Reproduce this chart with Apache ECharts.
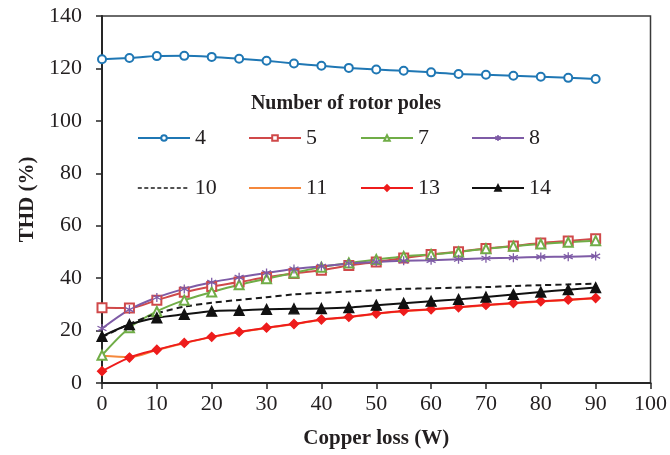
<!DOCTYPE html>
<html>
<head>
<meta charset="utf-8">
<script src="https://cdn.jsdelivr.net/npm/echarts@6/dist/echarts.min.js"></script>
<style>
  html, body { margin: 0; padding: 0; background: #fff; }
  #chart { width: 670px; height: 455px; }
</style>
</head>
<body>
<div id="chart"></div>
<script>
// Copper loss (W), sampled every 5 W
const copperLoss = [0, 5, 10, 15, 20, 25, 30, 35, 40, 45, 50, 55, 60, 65, 70, 75, 80, 85, 90];

// THD (%) for each number of rotor poles
const poles4  = [123.5, 124.0, 124.7, 124.8, 124.4, 123.7, 122.9, 121.9, 121.0, 120.2, 119.6, 119.1, 118.5, 117.9, 117.6, 117.2, 116.8, 116.4, 116.0];
const poles5  = [28.7, 28.6, 31.6, 34.6, 36.8, 38.5, 40.3, 41.8, 43.0, 44.8, 46.2, 47.7, 49.0, 50.1, 51.3, 52.3, 53.4, 54.2, 55.0];
const poles7  = [10.6, 21.1, 27.3, 31.6, 34.7, 37.5, 39.8, 42.0, 44.2, 45.8, 47.1, 48.3, 49.0, 50.0, 51.2, 52.2, 53.0, 53.7, 54.3];
const poles8  = [20.8, 28.0, 32.6, 35.9, 38.4, 40.3, 42.0, 43.5, 44.5, 45.6, 46.2, 46.6, 46.8, 47.2, 47.6, 47.8, 48.1, 48.2, 48.4];
const poles10 = [17.5, 22.5, 26.5, 29.1, 30.6, 31.7, 32.7, 33.8, 34.4, 34.9, 35.4, 35.9, 36.1, 36.4, 36.6, 37.0, 37.3, 37.6, 37.9];
const poles11 = [10.4, 9.9, 12.6, 15.2, 17.5, 19.4, 21.0, 22.4, 24.1, 25.1, 26.4, 27.4, 28.0, 28.8, 29.7, 30.3, 31.1, 31.7, 32.3];
const poles13 = [4.5, 9.7, 12.7, 15.3, 17.6, 19.5, 21.1, 22.5, 24.2, 25.2, 26.5, 27.5, 28.1, 28.9, 29.8, 30.5, 31.2, 31.8, 32.4];
const poles14 = [17.8, 22.3, 24.9, 26.2, 27.4, 27.7, 28.1, 28.3, 28.4, 28.8, 29.7, 30.4, 31.2, 31.9, 32.8, 33.8, 34.7, 35.6, 36.4];

const xTicks = [0, 10, 20, 30, 40, 50, 60, 70, 80, 90, 100];
const yTicks = [0, 20, 40, 60, 80, 100, 120, 140];

const serif = '"Liberation Serif", "Times New Roman", serif';
const ink = '#231f20';

// asterisk marker used for the 8-pole curve
const asterisk = 'path://M0,-10L0,10M-8.66,-5L8.66,5M-8.66,5L8.66,-5';

function pairs(ys) {
  return copperLoss.map((x, i) => [x, ys[i]]);
}

const seriesDefs = [
  { name: '4',  data: poles4,  color: '#1f77b4', symbol: 'emptyCircle', size: 8 },
  { name: '5',  data: poles5,  color: '#d0494a', symbol: 'emptyRect', size: 9 },
  { name: '7',  data: poles7,  color: '#70ad47', symbol: 'emptyTriangle', size: 9 },
  { name: '8',  data: poles8,  color: '#7e5ba6', symbol: asterisk, size: 9, stroke: true },
  { name: '10', data: poles10, color: '#1a1a1a', symbol: 'none', size: 0, dashed: true },
  { name: '11', data: poles11, color: '#f5883c', symbol: 'none', size: 0 },
  { name: '13', data: poles13, color: '#ee1c1c', symbol: 'diamond', size: 9 },
  { name: '14', data: poles14, color: '#111111', symbol: 'triangle', size: 10 }
];

const series = seriesDefs.map(d => {
  const s = {
    name: d.name,
    type: 'line',
    data: pairs(d.data),
    smooth: 0.3,
    symbol: d.symbol,
    symbolSize: d.size,
    showSymbol: d.symbol !== 'none',
    color: d.color,
    lineStyle: { color: d.color, width: 2, type: d.dashed ? [6, 4] : 'solid' },
    itemStyle: { color: d.color, borderColor: d.color, borderWidth: 1.3 },
    emphasis: { disabled: true },
    animation: false
  };
  if (d.stroke) {
    s.itemStyle = { color: 'none', borderColor: d.color, borderWidth: 1.3 };
  }
  return s;
});

// legend laid out as a 4 x 2 table
const colX = [137, 248, 360, 471];
const rowY = [127, 177];
const legends = seriesDefs.map((d, i) => {
  const item = { name: d.name };
  if (d.symbol === 'none') {
    item.itemStyle = { opacity: 0 };
  }
  if (d.dashed) {
    item.lineStyle = { type: [4, 2.5], width: 1.6 };
  }
  return {
    data: [item],
    left: colX[i % 4],
    top: rowY[Math.floor(i / 4)],
    padding: 0,
    itemWidth: 52,
    itemHeight: 7,
    itemGap: 0,
    selectedMode: false,
    textStyle: { fontFamily: serif, fontSize: 22, color: ink }
  };
});

const chart = echarts.init(document.getElementById('chart'), null, { renderer: 'canvas' });
chart.setOption({
  animation: false,
  backgroundColor: '#fff',
  title: {
    text: 'Number of rotor poles',
    left: 341,
    top: 89,
    textAlign: 'center',
    textStyle: { fontFamily: serif, fontSize: 20, fontWeight: 'bold', color: ink }
  },
  legend: legends,
  grid: {
    left: 102, top: 16, width: 549, height: 367,
    show: true, borderColor: '#3a3a3a', borderWidth: 1.5, backgroundColor: 'transparent'
  },
  xAxis: {
    type: 'value',
    min: 0, max: 100, interval: 10,
    name: 'Copper loss (W)',
    nameLocation: 'middle',
    nameGap: 45,
    nameTextStyle: { fontFamily: serif, fontSize: 21, fontWeight: 'bold', color: ink },
    axisLine: { show: true, onZero: false, lineStyle: { color: '#262626', width: 2 } },
    axisTick: { show: true, inside: false, length: 6, lineStyle: { color: '#262626', width: 1.5 } },
    axisLabel: { fontFamily: serif, fontSize: 22, color: ink, margin: 10,
      formatter: v => xTicks.includes(v) ? String(v) : '' },
    splitLine: { show: false }
  },
  yAxis: {
    type: 'value',
    min: 0, max: 140, interval: 20,
    name: 'THD (%)',
    nameLocation: 'middle',
    nameGap: 58,
    nameRotate: 90,
    nameTextStyle: { fontFamily: serif, fontSize: 21, fontWeight: 'bold', color: ink },
    axisLine: { show: true, onZero: false, lineStyle: { color: '#262626', width: 2 } },
    axisTick: { show: true, inside: false, length: 6, lineStyle: { color: '#262626', width: 1.5 } },
    axisLabel: { fontFamily: serif, fontSize: 22, color: ink, margin: 20,
      formatter: v => yTicks.includes(v) ? String(v) : '' },
    splitLine: { show: false }
  },
  series: series
});
</script>
</body>
</html>
